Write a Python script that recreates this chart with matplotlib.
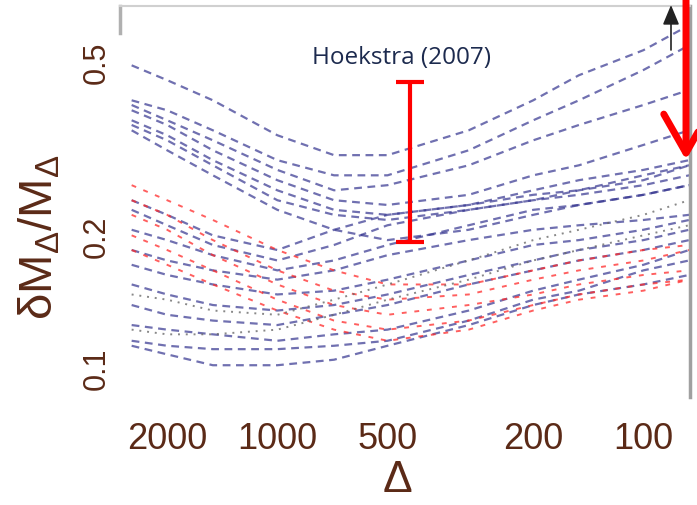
import matplotlib
matplotlib.use("Agg")
import matplotlib.pyplot as plt

plt.rcParams['font.family'] = ['Liberation Sans', 'DejaVu Sans']
plt.rcParams['mathtext.fontset'] = 'custom'
plt.rcParams['mathtext.rm'] = 'Liberation Sans'
plt.rcParams['mathtext.it'] = 'Liberation Sans'
plt.rcParams['mathtext.default'] = 'regular'

# ---- data ----
delta = [2500, 2000, 1500, 1000, 700, 500, 300, 200, 150, 100, 75]

# blue dashed curves (upper family)
blue_u1 = [0.494, 0.457, 0.411, 0.342, 0.308, 0.308, 0.351, 0.411, 0.469, 0.535, 0.610]
blue_u2 = [0.411, 0.390, 0.351, 0.300, 0.277, 0.277, 0.316, 0.370, 0.411, 0.482, 0.549]
blue_u3 = [0.401, 0.370, 0.333, 0.285, 0.256, 0.263, 0.292, 0.333, 0.361, 0.401, 0.434]
blue_u4 = [0.390, 0.361, 0.316, 0.270, 0.243, 0.237, 0.250, 0.277, 0.292, 0.325, 0.351]
blue_u5 = [0.370, 0.342, 0.300, 0.256, 0.231, 0.225, 0.237, 0.256, 0.270, 0.285, 0.300]
blue_u6 = [0.361, 0.333, 0.292, 0.243, 0.225, 0.219, 0.231, 0.243, 0.256, 0.270, 0.292]
blue_u7 = [0.351, 0.316, 0.277, 0.231, 0.208, 0.197, 0.208, 0.225, 0.237, 0.250, 0.263]
# blue dashed curves (lower family)
blue_l1 = [0.243, 0.225, 0.202, 0.187, 0.208, 0.225, 0.237, 0.250, 0.256, 0.277, 0.292]
blue_l2 = [0.231, 0.213, 0.192, 0.177, 0.192, 0.213, 0.231, 0.243, 0.250, 0.263, 0.277]
blue_l3 = [0.208, 0.197, 0.182, 0.168, 0.177, 0.192, 0.213, 0.231, 0.237, 0.250, 0.263]
blue_l4 = [0.187, 0.177, 0.168, 0.160, 0.168, 0.182, 0.197, 0.208, 0.213, 0.219, 0.225]
blue_l5 = [0.173, 0.164, 0.156, 0.148, 0.151, 0.160, 0.177, 0.192, 0.197, 0.208, 0.219]
blue_l6 = [0.156, 0.148, 0.140, 0.136, 0.140, 0.148, 0.164, 0.177, 0.187, 0.197, 0.208]
blue_l7 = [0.140, 0.133, 0.129, 0.126, 0.133, 0.140, 0.156, 0.168, 0.177, 0.187, 0.197]
blue_l8 = [0.126, 0.123, 0.120, 0.116, 0.120, 0.123, 0.136, 0.151, 0.160, 0.173, 0.187]
blue_l9 = [0.116, 0.113, 0.111, 0.111, 0.113, 0.116, 0.129, 0.144, 0.151, 0.168, 0.177]
blue_l10 = [0.113, 0.108, 0.102, 0.102, 0.105, 0.113, 0.126, 0.140, 0.148, 0.156, 0.164]

# red dashed curves
red_1 = [0.263, 0.243, 0.219, 0.187, 0.168, 0.156, 0.156, 0.168, 0.177, 0.187, 0.192]
red_2 = [0.243, 0.225, 0.197, 0.168, 0.151, 0.144, 0.148, 0.160, 0.168, 0.177, 0.187]
red_3 = [0.225, 0.208, 0.182, 0.156, 0.140, 0.133, 0.140, 0.148, 0.156, 0.164, 0.168]
red_4 = [0.202, 0.187, 0.168, 0.144, 0.129, 0.123, 0.129, 0.140, 0.148, 0.156, 0.160]
red_5 = [0.187, 0.173, 0.156, 0.136, 0.123, 0.116, 0.123, 0.136, 0.144, 0.151, 0.160]

# grey dotted curves
grey_1 = [0.148, 0.144, 0.136, 0.133, 0.144, 0.156, 0.177, 0.197, 0.208, 0.225, 0.243]
grey_2 = [0.123, 0.120, 0.120, 0.123, 0.133, 0.144, 0.160, 0.177, 0.187, 0.202, 0.213]

# Hoekstra (2007) error bar
hoek_delta = 434
hoek_low = 0.195
hoek_high = 0.452
hoek_label = "Hoekstra (2007)"

xticks = [2000, 1000, 500, 200, 100]
xtick_labels = ["2000", "1000", "500", "200", "100"]
yticks = [0.1, 0.2, 0.5]
ytick_labels = ["0.1", "0.2", "0.5"]

blue_curves = [blue_u1, blue_u2, blue_u3, blue_u4, blue_u5, blue_u6, blue_u7,
               blue_l1, blue_l2, blue_l3, blue_l4, blue_l5, blue_l6, blue_l7,
               blue_l8, blue_l9, blue_l10]
red_curves = [red_1, red_2, red_3, red_4, red_5]
grey_curves = [grey_1, grey_2]

# ---- figure ----
brown = '#5b2a17'
fig = plt.figure(figsize=(6.97, 5.05), dpi=100)
ax = fig.add_axes([120/697, 1-397/505, 570/697, 391/505])

for c in blue_curves:
    ax.plot(delta, c, color='#34348f', lw=1.6, alpha=0.7, dashes=(3.5, 2.5))
for c in red_curves:
    ax.plot(delta, c, color='#ff2a2a', lw=1.4, alpha=0.75, dashes=(2.5, 4))
for c in grey_curves:
    ax.plot(delta, c, color='#6a6a6a', lw=1.4, alpha=0.8, dashes=(1, 3))

ym = (hoek_low + hoek_high) / 2
ax.errorbar([hoek_delta], [ym], yerr=[[ym - hoek_low], [hoek_high - ym]],
            fmt='none', ecolor='#ff0000', elinewidth=3, capsize=10, capthick=3)

ax.text((402-120)/570, (397-58)/391, hoek_label, transform=ax.transAxes,
        ha='center', va='center', fontsize=17.5, color='#1c2a4e',
        family=['Open Sans', 'DejaVu Sans'])

ax.set_xscale('log')
ax.set_yscale('log')
ax.set_xlim(2690, 74.6)
ax.set_ylim(0.0863, 0.675)

ax.set_xticks(xticks)
ax.set_xticklabels(xtick_labels)
ax.set_yticks(yticks)
ax.set_yticklabels(ytick_labels, rotation=90, va='center')
ax.minorticks_off()
ax.tick_params(axis='x', length=0, pad=18, labelsize=26, labelcolor=brown)
ax.tick_params(axis='y', length=0, pad=6, labelsize=22, labelcolor=brown)

ax.set_xlabel(r'$\Delta$', fontsize=32, color=brown)
ax.xaxis.set_label_coords((397-120)/570, (397-481)/391)
ax.xaxis.label.set_va('center')
ax.set_ylabel(r'$\delta M_\Delta/M_\Delta$', fontsize=34, color=brown, va='center')
ax.yaxis.set_label_coords((40-120)/570, (397-237)/391)

for s in ['left', 'bottom']:
    ax.spines[s].set_visible(False)
ax.spines['top'].set_color('#d0d0d0')
ax.spines['top'].set_linewidth(1.5)
ax.spines['right'].set_color('#a0a0a0')
ax.spines['right'].set_linewidth(2.5)
ax.axvline(2690, ymin=0.93, ymax=1.0, color='#b0b0b0', lw=2.5, clip_on=False)

# annotation arrows (figure coords)
ax.annotate('', xy=(686/697, 1-160/505), xytext=(686/697, 1.02),
            xycoords='figure fraction', textcoords='figure fraction',
            arrowprops=dict(arrowstyle='->,head_length=1.4,head_width=0.8',
                            color='#ff0000', lw=5, mutation_scale=20,
                            shrinkA=0, shrinkB=0))
ax.annotate('', xy=(671/697, 1-5/505), xytext=(671/697, 1-50/505),
            xycoords='figure fraction', textcoords='figure fraction',
            arrowprops=dict(arrowstyle='-|>,head_length=0.6,head_width=0.25',
                            color='#222222', lw=1.2, mutation_scale=20,
                            shrinkA=0, shrinkB=0))

fig.savefig('out.png', dpi=100)
